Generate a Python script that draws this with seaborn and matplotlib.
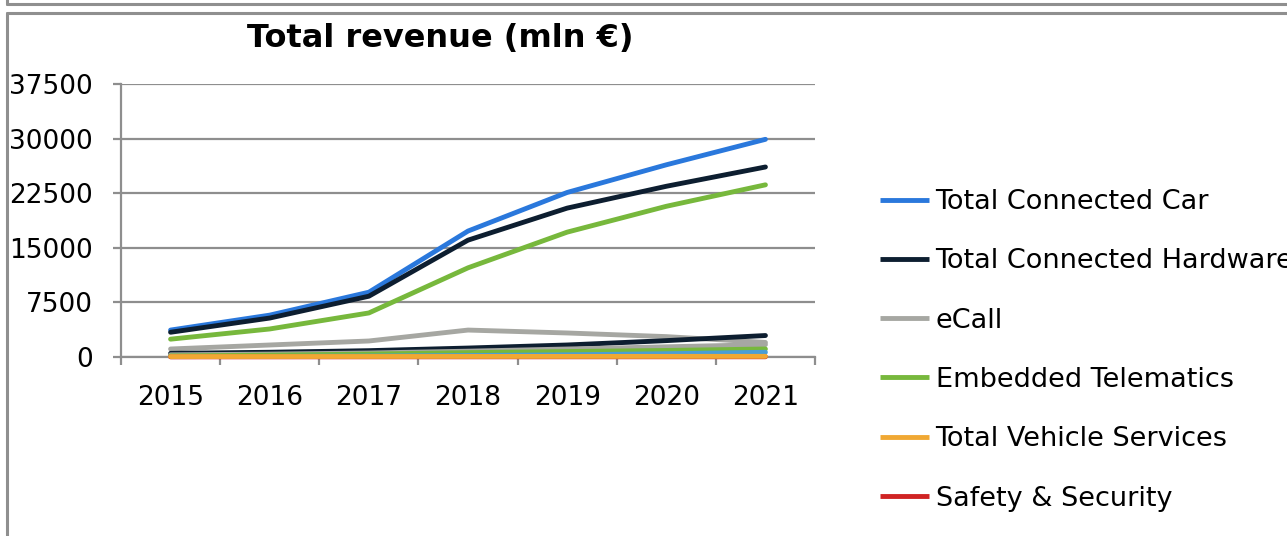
import matplotlib
matplotlib.use('Agg')
import matplotlib.pyplot as plt
import pandas as pd
import seaborn as sns
from matplotlib.lines import Line2D

# Data (mln EUR)
years = ['2015', '2016', '2017', '2018', '2019', '2020', '2021']
total_connected_car = [3700, 5750, 8900, 17300, 22600, 26400, 29900]
total_connected_hardware = [3400, 5350, 8350, 16050, 20450, 23450, 26100]
ecall = [1100, 1650, 2200, 3700, 3300, 2800, 2000]
embedded_telematics = [2450, 3850, 6050, 12250, 17150, 20700, 23650]
total_vehicle_services = [60, 65, 70, 75, 80, 85, 90]
safety_security = [20, 22, 24, 26, 28, 30, 32]
# series below the visible legend (legend is cut off in the picture)
aftermarket_hardware = [500, 650, 870, 1230, 1650, 2250, 2950]
ecall_hardware = [300, 400, 550, 800, 1100, 1400, 1700]
embedded_hardware = [150, 250, 400, 600, 750, 900, 1100]
smartphone_integration = [50, 80, 120, 200, 300, 450, 650]

# drawing order: later ones end up on top
series = {
    'Total Connected Car': total_connected_car,
    'Total Connected Hardware': total_connected_hardware,
    'eCall': ecall,
    'Embedded Telematics': embedded_telematics,
    'Aftermarket Hardware': aftermarket_hardware,
    'eCall Hardware': ecall_hardware,
    'Embedded Hardware': embedded_hardware,
    'Smartphone Integration': smartphone_integration,
    'Safety & Security': safety_security,
    'Total Vehicle Services': total_vehicle_services,
}
colors = {
    'Total Connected Car': '#2a78dc',
    'Total Connected Hardware': '#0d1e30',
    'eCall': '#a6a7a2',
    'Embedded Telematics': '#77b83c',
    'Total Vehicle Services': '#f0a833',
    'Safety & Security': '#d02424',
    'Aftermarket Hardware': '#0d1e30',
    'eCall Hardware': '#a6a7a2',
    'Embedded Hardware': '#77b83c',
    'Smartphone Integration': '#4a9ed6',
}
legend_order = ['Total Connected Car', 'Total Connected Hardware', 'eCall',
                'Embedded Telematics', 'Total Vehicle Services', 'Safety & Security']

rows = []
for name, vals in series.items():
    for y, v in zip(years, vals):
        rows.append({'year': y, 'revenue': v, 'series': name})
df = pd.DataFrame(rows)

sns.set_style('white')
plt.rcParams['font.family'] = ['DejaVu Sans']
plt.rcParams['text.color'] = 'black'
plt.rcParams['xtick.labelcolor'] = 'black'
plt.rcParams['ytick.labelcolor'] = 'black'
grid_col = '#8e8e8e'

fig = plt.figure(figsize=(12.87, 5.36), dpi=100)
ax = fig.add_axes([121 / 1287, 1 - 357 / 536, (815 - 121) / 1287, (357 - 84) / 536])

sns.lineplot(data=df, x='year', y='revenue', hue='series', palette=colors,
             hue_order=list(series.keys()), linewidth=3.5, ax=ax, legend=False,
             sort=False)
# lines sit on top of the axis line, like in the original
for ln in ax.lines:
    ln.set_clip_on(False)
    ln.set_zorder(3)

ax.set_xlim(-0.5, 6.5)
ax.set_ylim(0, 37500)
ax.set_yticks(range(0, 37501, 7500))
ax.set_xticks(range(len(years)))
ax.set_xticklabels(years)
ax.set_xticks([i - 0.5 for i in range(len(years) + 1)], minor=True)
ax.grid(axis='y', color=grid_col, linewidth=1.6)
ax.set_axisbelow(True)
ax.set_xlabel('')
ax.set_ylabel('')
for s in ['top', 'right']:
    ax.spines[s].set_visible(False)
for s in ['left', 'bottom']:
    ax.spines[s].set_color(grid_col)
    ax.spines[s].set_linewidth(1.6)
ax.tick_params(axis='x', which='major', length=0, pad=20, labelsize=19)
ax.tick_params(axis='x', which='minor', length=6, width=1.6, color=grid_col, bottom=True)
ax.tick_params(axis='y', length=6, width=1.6, color=grid_col, pad=14, labelsize=19, left=True)

fig.text(440 / 1287, 1 - 38 / 536, 'Total revenue (mln €)', ha='center', va='center',
         fontsize=23, fontweight='bold')

handles = [Line2D([0], [0], color=colors[n], linewidth=3.5, solid_capstyle='butt') for n in legend_order]
fig.legend(handles, legend_order, loc='upper left', bbox_to_anchor=(880 / 1287, 1 - 189 / 536),
           frameon=False, fontsize=19.5, handlelength=1.8, handletextpad=0.25,
           labelspacing=1.23, borderpad=0, borderaxespad=0)

# outer chart box borders
W, H = 1287, 536
for x0, y0, x1, y1 in [(7, 4, W + 5, 4), (7, -5, 7, 4), (7, 13, W + 5, 13), (7, 13, 7, H + 5)]:
    fig.add_artist(Line2D([x0 / W, x1 / W], [1 - y0 / H, 1 - y1 / H], color='#8f8f8f', linewidth=2.2))

plt.savefig('out.png', dpi=100)
